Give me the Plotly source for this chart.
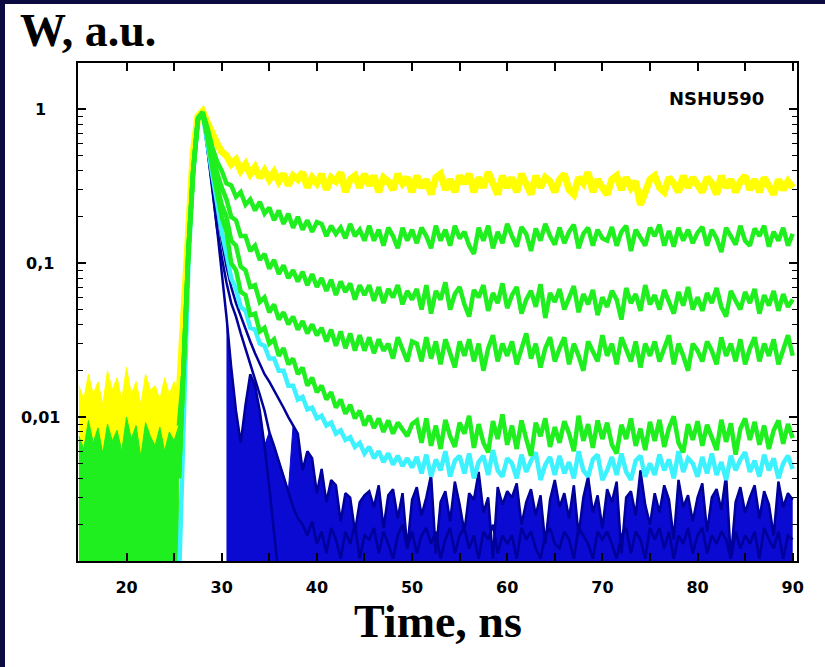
import math
import plotly.graph_objects as go

# ---------------- data ----------------
T_PRE_START = 15.0      # pre-pulse background starts here
T_MAIN_START = 25.5     # pulse traces start here
T_STEP = 0.5            # ns between samples

YELLOW_PRE = [.016, .013, .019, .014, .017, .012, .020, .015, .018, .013, .021,
              .014, .017, .012, .019, .015, .016, .013, .018, .014, .017, .013]
GREEN_PRE = [.0075, .0062, .0095, .0068, .0085, .0058, .0090, .0070, .0082, .0060, .0100,
             .0072, .0088, .0055, .0092, .0075, .0065, .0086, .0060, .0080, .0070, .0088]

YELLOW = [.013, .045, .22, .52, .90, .97, .82, .68, .60, .53,
          .50, .44, .47, .40, .44, .38, .42, .36, .40, .35,
          .39, .34, .38, .32, .37, .35, .39, .31, .36, .33,
          .38, .30, .36, .34, .39, .29, .35, .37, .31, .38,
          .32, .37, .29, .36, .34, .30, .38, .33, .36, .29,
          .37, .31, .35, .28, .36, .38, .30, .35, .29, .37,
          .33, .38, .29, .36, .31, .39, .32, .28, .37, .31,
          .36, .29, .38, .33, .28, .37, .31, .36, .34, .29,
          .35, .38, .30, .28, .36, .33, .39, .29, .35, .31,
          .28, .35, .37, .30, .36, .31, .34, .24, .30, .35,
          .37, .31, .29, .36, .33, .29, .37, .31, .36, .32,
          .29, .36, .33, .28, .37, .31, .35, .29, .34, .37,
          .30, .35, .29, .36, .32, .28, .35, .30, .34, .31]

GREEN_1 = [.0088, .02, .12, .40, .88, .96, .76, .57, .46, .40,
           .33, .32, .27, .29, .24, .26, .22, .25, .21, .23,
           .19, .22, .18, .21, .17, .20, .165, .19, .16, .185,
           .18, .15, .175, .155, .17, .145, .18, .15, .165, .14,
           .175, .14, .165, .13, .17, .15, .125, .17, .14, .165,
           .135, .17, .15, .125, .175, .14, .165, .13, .175, .145,
           .16, .13, .115, .17, .14, .175, .125, .16, .135, .18,
           .15, .128, .172, .155, .12, .168, .14, .18, .15, .132,
           .17, .135, .16, .178, .125, .155, .17, .13, .165, .145,
           .14, .172, .13, .16, .175, .12, .165, .145, .13, .17,
           .15, .178, .13, .162, .128, .17, .14, .165, .135, .158,
           .172, .13, .165, .145, .118, .17, .15, .132, .175, .14,
           .13, .168, .15, .175, .128, .16, .14, .17, .13, .155]

GREEN_2 = [.004, .02, .12, .40, .86, .95, .70, .50, .39, .31,
           .26, .20, .19, .15, .15, .12, .13, .105, .115, .092,
           .105, .085, .097, .08, .09, .076, .088, .072, .085, .07,
           .08, .066, .078, .062, .076, .065, .074, .058, .072, .062,
           .072, .057, .07, .055, .068, .06, .072, .054, .066, .058,
           .068, .05, .072, .047, .066, .058, .075, .05, .063, .07,
           .054, .045, .067, .06, .072, .049, .064, .055, .074, .051,
           .062, .07, .047, .058, .066, .052, .073, .044, .064, .056,
           .068, .05, .06, .071, .048, .063, .054, .067, .046, .06,
           .052, .066, .058, .043, .069, .055, .063, .049, .072, .054,
           .062, .05, .067, .056, .047, .065, .053, .07, .05, .06,
           .049, .064, .055, .069, .052, .045, .066, .057, .05, .065,
           .055, .068, .047, .062, .053, .066, .049, .063, .052, .058]

GREEN_3 = [.004, .02, .12, .40, .86, .94, .68, .45, .33, .24,
           .20, .14, .13, .095, .09, .07, .072, .056, .06, .048,
           .054, .043, .048, .04, .045, .037, .042, .035, .04, .034,
           .038, .031, .037, .029, .036, .028, .035, .027, .034, .027,
           .033, .026, .032, .027, .03, .024, .033, .027, .023, .031,
           .03, .023, .033, .024, .031, .022, .032, .026, .021, .031,
           .025, .032, .023, .03, .02, .028, .034, .023, .03, .025,
           .031, .022, .028, .035, .024, .03, .021, .028, .033, .023,
           .028, .033, .022, .03, .025, .02, .031, .027, .023, .034,
           .025, .03, .022, .033, .027, .023, .031, .021, .03, .025,
           .031, .023, .028, .034, .022, .03, .025, .02, .03, .027,
           .023, .031, .027, .022, .033, .025, .03, .023, .032, .022,
           .028, .033, .023, .03, .025, .032, .022, .028, .034, .025]

GREEN_4 = [.004, .02, .12, .40, .86, .94, .66, .42, .29, .20,
           .16, .10, .09, .065, .062, .046, .047, .036, .038, .03,
           .032, .025, .028, .022, .024, .019, .021, .016, .018, .0145,
           .016, .013, .0145, .0115, .013, .0105, .012, .0098, .011, .0088,
           .0102, .0085, .0098, .008, .0095, .0078, .0092, .0082, .0075, .009,
           .0095, .0068, .0098, .0065, .0088, .0062, .0096, .0075, .0064, .0092,
           .0078, .0102, .0063, .009, .0068, .0059, .0094, .0072, .0104, .0066,
           .0088, .0062, .0095, .0072, .0056, .0092, .0075, .0098, .0064, .0086,
           .0068, .0094, .0078, .006, .0102, .007, .009, .0063, .0095, .0072,
           .0092, .0066, .0058, .0089, .0072, .0098, .0065, .0084, .0061, .0093,
           .007, .0096, .0064, .0085, .0101, .0068, .0059, .009, .0071, .0094,
           .0065, .0089, .0075, .0061, .0096, .0069, .0091, .0057, .0084, .0098,
           .0071, .0093, .0066, .0088, .0062, .0082, .0095, .0067, .009, .0073]

CYAN = [.0008, .012, .10, .38, .85, .93, .62, .38, .25, .16,
        .115, .08, .068, .052, .049, .038, .037, .03, .029, .024,
        .024, .02, .02, .016, .016, .013, .0135, .0112, .0115, .0098,
        .0102, .0088, .0092, .0078, .0082, .0071, .0074, .0064, .0068, .0058,
        .0064, .0054, .006, .0051, .0058, .0049, .0056, .0048, .0054, .0047,
        .0055, .0043, .0057, .0041, .0053, .0045, .006, .0041, .0052, .0056,
        .0043, .0058, .004, .0051, .0056, .0042, .0061, .0045, .0041, .0054,
        .005, .004, .0057, .0044, .0052, .0059, .0039, .0049, .0055, .0042,
        .0056, .0043, .0051, .004, .006, .0045, .0041, .0053, .0057, .0039,
        .0045, .0055, .0042, .0058, .0044, .0039, .0052, .0056, .0041, .005,
        .0042, .0057, .0045, .0053, .004, .006, .0044, .0054, .005, .0041,
        .0055, .0043, .0058, .0042, .0051, .0039, .0056, .0045, .0053, .0059,
        .0044, .0052, .0041, .0057, .0045, .0054, .004, .005, .0056, .0046]

BLUE_3 = [.0008, .012, .10, .38, .85, .93, .60, .36, .22, .14,
          .095, .07, .055, .045, .037, .031, .026, .022, .019, .017,
          .015, .013, .0115, .01, .0088, .0078, .0045, .006, .0054, .0032,
          .0046, .0028, .0039, .0036, .0021, .0032, .0030, .0018, .0028, .0031,
          .0033, .0026, .0036, .0019, .0031, .0034, .0022, .0032, .0014, .0029,
          .0035, .0023, .003, .0042, .0013, .0028, .0033, .0021, .0038, .0027,
          .0018, .0032, .0029, .0044, .0024, .003, .0012, .0035, .0027, .0033,
          .003, .0037, .002, .0028, .0034, .0023, .0031, .0015, .0029, .0039,
          .0026, .0032, .0022, .0036, .0017, .003, .0041, .0024, .0031, .0019,
          .0034, .0028, .0038, .0013, .003, .0033, .0023, .0045, .0027, .002,
          .0032, .0024, .0036, .0029, .0016, .0039, .0026, .0031, .0021, .003,
          .0037, .0018, .003, .0034, .0025, .0042, .0012, .0028, .0035, .0024,
          .003, .0036, .0022, .0033, .0027, .0017, .0038, .0026, .0032, .0029]

BLUE_2 = [.0008, .012, .10, .38, .85, .93, .55, .30, .17, .11,
          .075, .055, .045, .035, .028, .022, .018, .014, .011, .008,
          .0065, .0052, .0042, .0033, .0026, .0022, .002, .0017, .0021, .0015,
          .0018, .0013, .0019, .0016, .0012, .0018, .0015, .002, .0012, .0017,
          .0016, .0019, .0013, .0018, .0015, .0012, .0017, .002, .0014, .0018,
          .0013, .0017, .0019, .0015, .0018, .0012, .0016, .0019, .0013, .0017,
          .0019, .0014, .0017, .0012, .0018, .0016, .002, .0013, .0017, .0015,
          .0017, .0012, .0019, .0016, .0018, .0014, .0012, .0017, .0019, .0015,
          .0014, .0018, .0016, .0012, .0019, .0017, .0015, .0012, .0018, .0016,
          .0018, .0015, .0012, .0017, .0019, .0013, .0018, .0016, .0012, .0019,
          .0016, .0019, .0014, .0018, .0012, .0017, .0015, .0019, .0013, .0017,
          .0019, .0013, .0017, .0015, .0018, .0016, .0012, .0018, .0014, .0017,
          .0015, .0018, .0012, .0019, .0016, .0014, .0018, .0012, .0017, .0016]

BLUE_1 = [.0008, .012, .10, .38, .85, .93, .55, .32, .17, .09,
          .045, .021, .011, .0068, .012, .019, .016, .011, .0065, .0035,
          .0018, .0009]

X_TICKS = [15, 20, 25, 30, 35, 40, 45, 50, 55, 60, 65, 70, 75, 80, 85, 90]
X_TICK_TEXT = ["", "20", "", "30", "", "40", "", "50", "", "60", "", "70", "", "80", "", "90"]
Y_TICKS = [1, 0.1, 0.01]
Y_TICK_TEXT = ["1", "0,1", "0,01"]

# ---------------- styling ----------------
NAVY = "#0b0b42"
YEL = "#ffff00"
GRN = "#1fee1f"
CYA = "#3df2ff"
BLU = "#0a0ad2"
BLU_EDGE = "#00009a"

# plot area in pixels (825 x 667 canvas)
L, R, T, B = 78, 28, 63, 106
W, H = 825, 667
PW, PH = W - L - R, H - T - B


def times(start, n):
    return [start + T_STEP * i for i in range(n)]


for arr in (YELLOW, GREEN_1, GREEN_2, GREEN_3, GREEN_4, CYAN, BLUE_3, BLUE_2):
    assert len(arr) == 130, len(arr)

fig = go.Figure()

t_pre = times(T_PRE_START, len(YELLOW_PRE))
t_main = times(T_MAIN_START, 130)
t_b1 = times(T_MAIN_START, len(BLUE_1))


def area(xs, ys, color):
    """area under a noisy trace, down past the bottom of the log axis"""
    fig.add_trace(go.Scatter(x=list(xs), y=list(ys), mode="lines", fill="tozeroy",
                             fillcolor=color, line=dict(color=color, width=1, simplify=False)))


# pre-pulse background (dense noise -> filled bands)
area(t_pre, YELLOW_PRE, YEL)
area(t_pre, GREEN_PRE, GRN)

# yellow
fig.add_trace(go.Scatter(x=t_main, y=YELLOW, mode="lines", line=dict(color=YEL, width=7)))

# blue noise floor: upper envelope of the blue traces, shown as one filled area
a, b, c = 10, 19, 24
floor_x = t_b1[a:b] + t_main[b:c] + t_main[c:]
floor_y = BLUE_1[a:b] + BLUE_2[b:c] + BLUE_3[c:]
area(floor_x, floor_y, BLU)

fig.add_trace(go.Scatter(x=t_b1, y=BLUE_1, mode="lines", line=dict(color=BLU_EDGE, width=2.5)))
fig.add_trace(go.Scatter(x=t_main, y=BLUE_2, mode="lines", line=dict(color=BLU_EDGE, width=2.5)))
fig.add_trace(go.Scatter(x=t_main, y=BLUE_3, mode="lines", line=dict(color=BLU_EDGE, width=2.5)))

# cyan and greens
fig.add_trace(go.Scatter(x=t_main, y=CYAN, mode="lines", line=dict(color=CYA, width=4.5)))
for g in (GREEN_4, GREEN_3, GREEN_2, GREEN_1):
    fig.add_trace(go.Scatter(x=t_main, y=g, mode="lines", line=dict(color=GRN, width=4.5)))

y_lo, y_hi = math.log10(0.00116), math.log10(2.0)
minor_vals = [m * 10 ** e for e in (-3, -2, -1, 0) for m in range(2, 10) if m * 10 ** e < 2.0]

fig.update_layout(
    width=W, height=H,
    margin=dict(l=L, r=R, t=T, b=B, pad=0),
    paper_bgcolor=NAVY, plot_bgcolor="white",
    showlegend=False,
    xaxis=dict(range=[14.9, 90.45], tickvals=X_TICKS, ticktext=X_TICK_TEXT,
               ticks="inside", ticklen=8, tickwidth=1.5, tickcolor="black",
               showline=True, linecolor="black", linewidth=2, mirror="ticks",
               showgrid=False, zeroline=False, ticklabelstandoff=11,
               tickfont=dict(family="DejaVu Sans", size=16, color="black", weight="bold")),
    yaxis=dict(type="log", range=[y_lo, y_hi], tickvals=Y_TICKS, showticklabels=False,
               ticks="inside", ticklen=8, tickwidth=1.5, tickcolor="black",
               minor=dict(tickvals=minor_vals, ticks="inside", ticklen=5, tickcolor="black", tickwidth=1),
               showline=True, linecolor="black", linewidth=2, mirror="ticks",
               showgrid=False, zeroline=False),
)

# white panel over the navy page
px_x = lambda p: (p - L) / PW
px_y = lambda p: (H - B - p) / PH
fig.add_shape(type="rect", xref="paper", yref="paper", layer="below",
              x0=px_x(5), x1=px_x(826), y0=px_y(668), y1=px_y(4),
              fillcolor="white", line=dict(width=0))

# y tick labels, centred like the original
for v, s in zip(Y_TICKS, Y_TICK_TEXT):
    fig.add_annotation(x=px_x(40), xref="paper", y=math.log10(v), yref="y", text=s,
                       showarrow=False, xanchor="center", yanchor="middle",
                       font=dict(family="DejaVu Sans", size=16, color="black", weight="bold"))

fig.add_annotation(x=px_x(18), xref="paper", y=px_y(30), yref="paper", text="W, a.u.",
                   showarrow=False, xanchor="left", yanchor="middle",
                   font=dict(family="Liberation Serif", size=46, color="black", weight="bold"))
fig.add_annotation(x=px_x(438), xref="paper", y=px_y(621), yref="paper", text="Time, ns",
                   showarrow=False, xanchor="center", yanchor="middle",
                   font=dict(family="Liberation Serif", size=46, color="black", weight="bold"))
fig.add_annotation(x=px_x(716), xref="paper", y=px_y(98), yref="paper", text="NSHU590",
                   showarrow=False, xanchor="center", yanchor="middle",
                   font=dict(family="DejaVu Sans", size=18, color="black", weight="bold"))

fig.write_html("out.html")
